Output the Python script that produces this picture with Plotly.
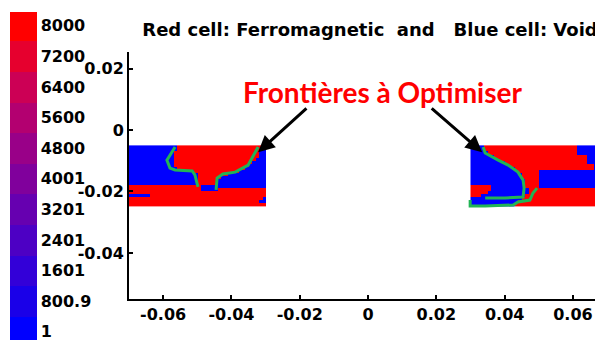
import plotly.graph_objects as go

# cell maps: R = ferromagnetic (8000), B = void (1)
# rows listed from the top of each block, 40 cells of 0.001 across
left_rows = [
    "BBBBBBBBBB BBBBRRRRRR RRRRRRRRRR RRRRRRRRRB",
    "BBBBBBBBBB BBBBRRRRRR RRRRRRRRRR RRRRRRRRRB",
    "BBBBBBBBBB BBBRRRRRRR RRRRRRRRRR RRRRRRRRBB",
    "BBBBBBBBBB BBBRRRRRRR RRRRRRRRRR RRRRRRRRBB",
    "BBBBBBBBBB BBBRRRRRRR RRRRRRRRRR RRRRRRRBBB",
    "BBBBBBBBBB BBBRRRRRRR RRRRRRRRRR RRRRRRBBBB",
    "BBBBBBBBBB BBBRRRRRRR RRRRRRRRRR RRRRRBBBBB",
    "BBBBBBBBBB BBBBRRRRRR RRRRRRRRRR RRRRBBBBBB",
    "BBBBBBBBBB BBBBBBBBBR RRRRRRRRRR RRBBBBBBBB",
    "BBBBBBBBBB BBBBBBBBBB RRRRRRRRRB BBBBBBBBBB",
    "BBBBBBBBBB BBBBBBBBBB RRRRRRRBBB BBBBBBBBBB",
    "BBBBBBBBBB BBBBBBBBBB RRRRRRBBBB BBBBBBBBBB",
    "BBBBBBBBBB BBBBBBBBBB RRRRRRBBBB BBBBBBBBBB",
    "RRRRRRRRRR RRRRRRRRRR RBBBBBBBBB BBBBBBBBBB",
    "RRRRRRRRRR RRRRRRRRRR RBBBBBRRRR RRRRRRRRRR",
    "RRRRRRRRRR RRRRRRRRRR RRRRRRRRRR RRRRRRRRRR",
    "BBBBBBRRRR RRRRRRRRRR RRRRRRRRRR RRRRRRRRRR",
    "RRRRRRRRRR RRRRRRRRRR RRRRRRRRRR RRRRRRRRRB",
    "RRRRRRRRRR RRRRRRRRRR RRRRRRRRRR RRRRRRRRBB",
    "RRRRRRRRRR RRRRRRRRRR RRRRRRRRRR RRRRRRRRRR",
]
right_rows = [
    "BBBBRRRRRR RRRRRRRRRR RRRRRRRRRR RBBBBBBBBB",
    "BBBBRRRRRR RRRRRRRRRR RRRRRRRRRR RBBBBBBBBB",
    "BBBBBRRRRR RRRRRRRRRR RRRRRRRRRR RBBBBBBBBB",
    "BBBBBBBRRR RRRRRRRRRR RRRRRRRRRR RRRRBBBBBB",
    "BBBBBBBBRR RRRRRRRRRR RRRRRRRRRR RRRRBBBBBB",
    "BBBBBBBBBB RRRRRRRRRR RRRRRRRRRR RRRRBBBBBB",
    "BBBBBBBBBB BRRRRRRRRR RRRRRRRRRR RRRRRRBBBB",
    "BBBBBBBBBB BBBRRRRRRR RRRRRRRRRR RRRRRRBBBB",
    "BBBBBBBBBB BBBBRRRRRR BBBBBBBBBB BBBBBBBBBB",
    "BBBBBBBBBB BBBBBRRRRR BBBBBBBBBB BBBBBBBBBB",
    "BBBBBBBBBB BBBBBRRRRR BBBBBBBBBB BBBBBBBBBB",
    "BBBBBBBBBB BBBBBBRRRR BBBBBBBBBB BBBBBBBBBB",
    "BBBBBBBBBB BBBBBBRRRR BBBBBBBBBB BBBBBBBBBB",
    "RRRRRRBBBB BBBBBBRRRR BBBBBBBBBB BBBBBBBBBB",
    "RRRRRRBBBB BBBBBBBRRR RRRRRRRRRR RRRRRRRRRR",
    "RRRRRBBBBB BBBBBBBRRR RRRRRRRRRR RRRRRRRRRR",
    "RRRBBBBBBB BBBBBBRRRR RRRRRRRRRR RRRRRRRRRR",
    "BBBBBBBBBB BBBBBRRRRR RRRRRRRRRR RRRRRRRRRR",
    "BBBBBBBBBB BBBBRRRRRR RRRRRRRRRR RRRRRRRRRR",
    "BBBBBBBBBB BBBRRRRRRR RRRRRRRRRR RRRRRRRRRR",
]
cell_value = {"R": 8000, "B": 1}
left_x0, right_x0 = -0.07, 0.03
block_top = -0.005
cell = 0.001

# green boundary curves
l1_x = [-0.0565, -0.0589, -0.0580, -0.0565, -0.0515, -0.0507, -0.0498]
l1_y = [-0.0055, -0.0098, -0.0124, -0.0130, -0.0133, -0.0146, -0.0185]
l2_x = [-0.0322, -0.0351, -0.0389, -0.0425, -0.0442, -0.0445]
l2_y = [-0.0055, -0.0114, -0.0137, -0.0143, -0.0156, -0.0195]
r1_x = [0.0337, 0.0343, 0.0381, 0.0410, 0.0439, 0.0454, 0.0457, 0.0454, 0.0401, 0.0343]
r1_y = [-0.0055, -0.0075, -0.0098, -0.0114, -0.0137, -0.0163, -0.0189, -0.0218, -0.0221, -0.0221]
r2_x = [0.0299, 0.0299, 0.0343, 0.0425, 0.0439, 0.0474, 0.0483, 0.0495]
r2_y = [-0.0228, -0.0247, -0.0247, -0.0244, -0.0234, -0.0228, -0.0205, -0.0189]

# arrows: (tip x, tip y, tail x, tail y)
arrows = [(-0.0322, -0.0072, -0.0176, 0.0075), (0.0334, -0.0072, 0.0182, 0.0075)]

x_ticks = [-0.06, -0.04, -0.02, 0, 0.02, 0.04, 0.06]
x_ticktext = ["-0.06", "-0.04", "-0.02", "0", "0.02", "0.04", "0.06"]
y_ticks = [0.02, 0, -0.02, -0.04]
y_ticktext = ["0.02", "0", "-0.02", "-0.04"]
cbar_ticks = [1, 800.9, 1600.8, 2400.7, 3200.6, 4000.5, 4800.4, 5600.3, 6400.2, 7200.1, 8000]
cbar_ticktext = ["1", "800.9", "1601", "2401", "3201", "4001", "4800", "5600", "6400", "7200", "8000"]
cbar_colors = ["#0000ff", "#1a00e8", "#3300d8", "#4d00c4", "#6600b0", "#80009c",
               "#990088", "#b30070", "#cc0055", "#e6002e", "#ff0000"]
cmin, cmax = -208, 8366

# the page sits 8px in from the window's top-left corner
W, H = 595, 333


def to_z(rows):
    # bottom row first so y grows upward
    return [[cell_value[c] for c in r.replace(" ", "")] for r in reversed(rows)]


def frac(v):
    return min(max((v - cmin) / (cmax - cmin), 0), 1)


# one flat colour band per tick, split halfway between ticks
edges = [cmin] + [(a + b) / 2 for a, b in zip(cbar_ticks[:-1], cbar_ticks[1:])] + [cmax]
scale = []
for i, c in enumerate(cbar_colors):
    scale.append([frac(edges[i]), c])
    scale.append([frac(edges[i + 1]), c])

fig = go.Figure()
for rows, x0 in [(left_rows, left_x0), (right_rows, right_x0)]:
    fig.add_trace(go.Heatmap(
        z=to_z(rows), x0=x0 + cell / 2, dx=cell,
        y0=block_top - cell * len(rows) + cell / 2, dy=cell,
        coloraxis="coloraxis", hoverinfo="skip",
    ))

for xs, ys in [(l1_x, l1_y), (l2_x, l2_y), (r1_x, r1_y), (r2_x, r2_y)]:
    fig.add_trace(go.Scatter(x=xs, y=ys, mode="lines", showlegend=False,
                             line=dict(color="#22b455", width=3), hoverinfo="skip"))

for tx, ty, sx, sy in arrows:
    fig.add_annotation(x=tx, y=ty, ax=sx, ay=sy, xref="x", yref="y", axref="x", ayref="y",
                       text="", showarrow=True, arrowhead=2, arrowsize=1.1,
                       arrowwidth=3, arrowcolor="black")

fig.add_annotation(x=0.0041, y=0.0124, xref="x", yref="y", text="Frontières à Optimiser",
                   showarrow=False, font=dict(family="Lato", size=28, color="#ff0000", weight="bold"))

tickfont = dict(family="DejaVu Sans", size=16, color="black", weight="bold")

fig.update_layout(
    width=W, height=H,
    margin=dict(l=121, r=0, t=44, b=42, autoexpand=False),
    paper_bgcolor="white", plot_bgcolor="white",
    showlegend=False,
    title=dict(text="Red cell: Ferromagnetic\u00a0\u00a0and\u00a0\u00a0\u00a0Blue cell: Void",
               x=362 / W, xanchor="center", xref="container",
               y=1 - 22 / H, yanchor="middle", yref="container",
               font=dict(family="DejaVu Sans", size=18, color="black", weight="bold")),
    coloraxis=dict(
        colorscale=scale, cmin=cmin, cmax=cmax,
        colorbar=dict(
            xref="container", x=2 / W, xanchor="left",
            yref="container", y=1 - 5 / H, yanchor="top",
            thickness=27, thicknessmode="pixels",
            len=328, lenmode="pixels",
            xpad=0, ypad=0, outlinewidth=0, ticks="", ticklen=5,
            ticklabeloverflow="allow",
            tickvals=cbar_ticks, ticktext=cbar_ticktext,
            tickfont=tickfont,
        ),
    ),
    xaxis=dict(range=[-0.07, 0.0688], tickvals=x_ticks, ticktext=x_ticktext,
               showgrid=False, zeroline=False, showline=True, linecolor="black", linewidth=2,
               ticks="inside", ticklen=4, tickcolor="black", tickwidth=1.5, tickfont=tickfont),
    yaxis=dict(range=[-0.055, 0.0254], tickvals=y_ticks, ticktext=y_ticktext,
               showgrid=False, zeroline=False, showline=True, linecolor="black", linewidth=2,
               ticks="inside", ticklen=4, tickcolor="black", tickwidth=1.5, tickfont=tickfont),
)

fig.write_html("out.html")
